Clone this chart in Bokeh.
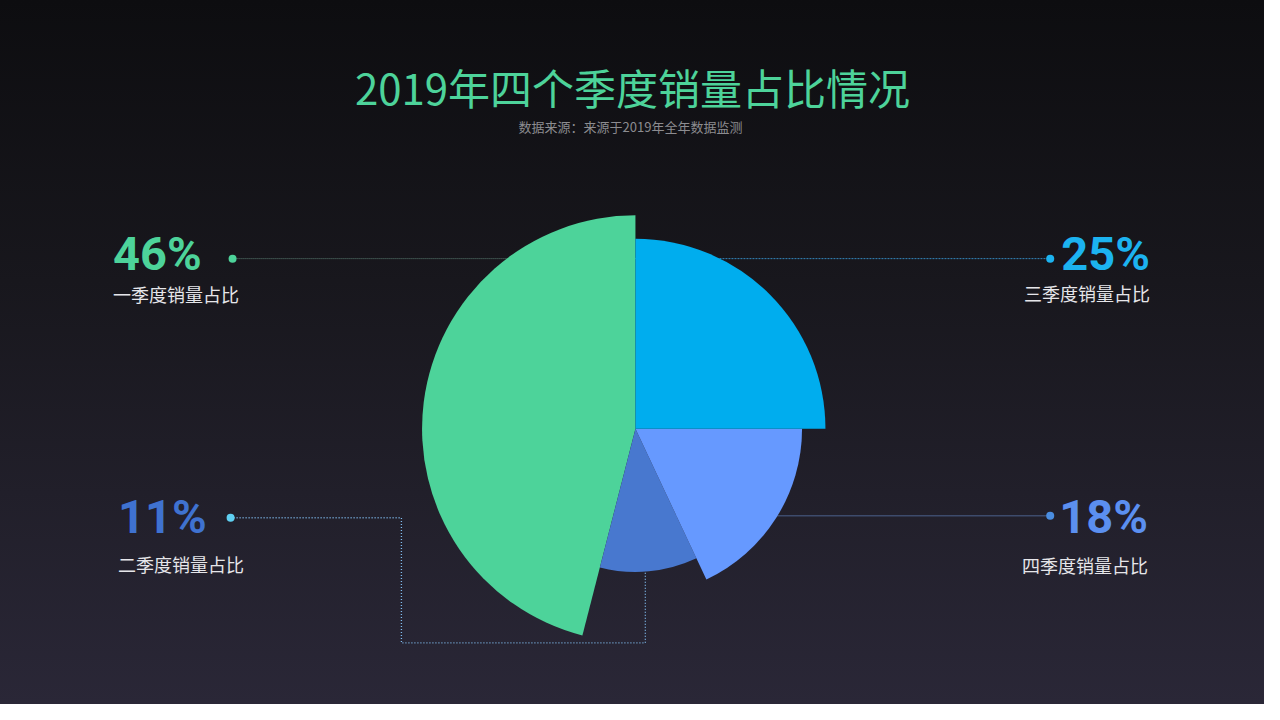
import numpy as np
from bokeh.plotting import figure
from bokeh.models import Range1d
from bokeh.core.properties import value
from bokeh.embed import file_html
from bokeh.resources import INLINE

# ---- data ----
quarters = ["一季度", "二季度", "三季度", "四季度"]
shares = [46, 11, 25, 18]
slice_colors = ["#4dd39a", "#4878cf", "#00adee", "#6699ff"]
pct_colors = ["#4dd39a", "#3f72d0", "#1cb3f0", "#5b8ff0"]
dot_colors = ["#4dd39a", "#5fd0f2", "#1cb3f0", "#4a8de0"]
draw_order = [0, 1, 3, 2]  # counter-clockwise from 12 o'clock
title = "2019年四个季度销量占比情况"
subtitle = "数据来源：来源于2019年全年数据监测"
label_suffix = "销量占比"

# ---- layout (reference pixel space, y flipped) ----
def Y(y):
    return 720 - y

CX, CY = 643, Y(438)
R0, RSTEP = 145, 23.7

p = figure(width=1264, height=704, x_range=Range1d(0, 1280), y_range=Range1d(0, 720),
           output_backend="svg", toolbar_location=None, min_border=0,
           x_axis_type=None, y_axis_type=None)
p.grid.visible = False
p.outline_line_color = None
p.background_fill_color = None
p.border_fill_color = None
p.styles = {"background": "linear-gradient(to bottom, #0d0d10 0%, #18171d 40%, #2a2737 100%)"}

CJK = value("Noto Sans CJK SC")
NUMF = value("Roboto")

# leader lines (drawn under the pie)
p.line([235, CX], [Y(264), Y(264)], line_color="#5d8476", line_width=1, line_dash="1 1")
p.line([CX, 1063], [Y(264), Y(264)], line_color="#3386bb", line_width=1, line_dash="2 1")
p.line([CX, 1063], [Y(527), Y(527)], line_color="#3d4b6c", line_width=1.5)
p.line([233, 406, 406, 653, 653], [Y(529), Y(529), Y(657), Y(657), Y(583)],
       line_color="#80bdf0", line_width=1.3, line_dash="1 2")

# rose / pie slices
ranks = np.argsort(np.argsort(shares))
start = np.pi / 2
for i in draw_order:
    end = start + shares[i] / 100 * 2 * np.pi
    r = R0 + RSTEP * ranks[i]
    p.wedge(x=[CX], y=[CY], radius=[r], start_angle=[start], end_angle=[end],
            fill_color=slice_colors[i], line_color=None)
    start = end

# dots
dot_pos = {0: (235, 264), 1: (233, 529), 2: (1063, 264), 3: (1063, 527)}
for i, (dx, dy) in dot_pos.items():
    p.scatter([dx], [Y(dy)], size=8, fill_color=dot_colors[i], line_color=None)

# labels: (x, pct center y, label center y, align)
lab_pos = {0: (114, 259, 300, "left"), 1: (119, 528, 576, "left"),
           2: (1164, 259, 299, "right"), 3: (1162, 528, 577, "right")}
for i, (lx, py, ly, al) in lab_pos.items():
    p.text([lx], [Y(py)], text=[f"{shares[i]}%"], text_font=NUMF, text_font_style="bold",
           text_font_size="47px", text_color=pct_colors[i], text_align=al,
           text_baseline="middle")
    p.text([lx], [Y(ly)], text=[quarters[i] + label_suffix], text_font=CJK,
           text_font_size="18px", text_color="#e6e6ea", text_align=al, text_baseline="middle")

# title and subtitle
p.text([640], [Y(88)], text=[title], text_font=CJK, text_font_size="42px",
       text_color="#4dd39a", text_align="center", text_baseline="middle")
p.text([638], [Y(129)], text=[subtitle], text_font=CJK, text_font_size="13px",
       text_color="#8c8c90", text_align="center", text_baseline="middle")

open("out.html", "w").write(file_html(p, INLINE))
